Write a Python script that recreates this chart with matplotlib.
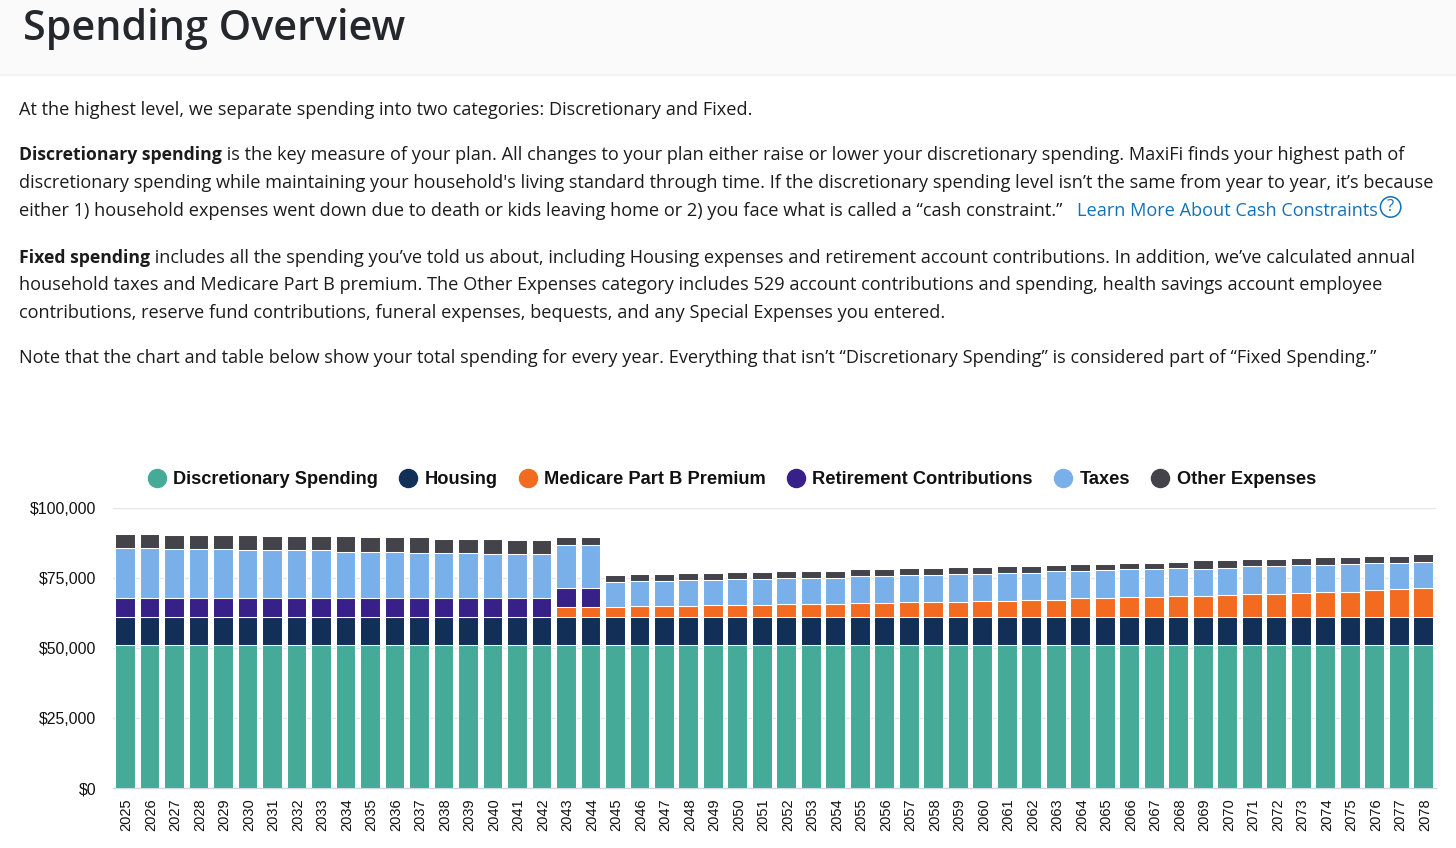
import matplotlib
matplotlib.use("Agg")
import matplotlib.pyplot as plt
from matplotlib.lines import Line2D
from matplotlib.patches import Rectangle, Circle
from matplotlib.ticker import FuncFormatter
from matplotlib.transforms import ScaledTranslation

years = list(range(2025, 2079))
discretionary = [51000] * 54
housing = [10000] * 54
medicare = [0, 0, 0, 0, 0, 0, 0, 0, 0, 0, 0, 0, 0, 0, 0, 0, 0, 0, 3700, 3700,
            3500, 3900, 3900, 3900, 4240, 4240, 4240, 4700, 4700, 4700, 5070, 5070, 5550, 5550,
            5550, 5900, 5900, 6260, 6260, 6740, 6740, 7210, 7210, 7690, 7690, 8050, 8400, 8400,
            8760, 9120, 9120, 9710, 10070, 10550]
retirement = [6860, 6860, 6860, 6860, 6860, 6860, 6860, 6860, 6860, 6860, 6860, 6860, 6860, 6860,
              6860, 6860, 6860, 6860, 6800, 6800,
              0, 0, 0, 0, 0, 0, 0, 0, 0, 0, 0, 0, 0, 0, 0, 0, 0, 0, 0, 0, 0, 0, 0, 0, 0, 0, 0, 0,
              0, 0, 0, 0, 0, 0]
taxes = [17850, 17850, 17500, 17500, 17500, 17140, 17140, 17140, 17140, 16540, 16540, 16540,
         16190, 16190, 16190, 15830, 15830, 15830, 15400, 15400,
         8950, 8910, 8910, 9390, 9050, 9520, 9520, 9420, 9420, 9420, 9530, 9530, 9400, 9400,
         9760, 9410, 10000, 9640, 10120, 9640, 10000, 9890, 9890, 10000, 9640, 9640, 9890, 9890,
         9880, 9520, 10000, 9770, 9410, 9280]
other = [5000, 5000, 5000, 5000, 5000, 5360, 5000, 5000, 5000, 5600, 5120, 5120, 5470, 5000, 5000,
         5360, 5000, 5000, 2620, 2620,
         2500, 2620, 2620, 2500, 2500, 2500, 2500, 2500, 2500, 2500, 2500, 2500, 2500, 2500,
         2620, 2620, 2390, 2390, 2260, 2740, 2380, 2380, 2380, 2140, 2980, 2620, 2500, 2500,
         2500, 2860, 2380, 2500, 2500, 2620]
series_names = ["Discretionary Spending", "Housing", "Medicare Part B Premium",
                "Retirement Contributions", "Taxes", "Other Expenses"]
series_values = [discretionary, housing, medicare, retirement, taxes, other]
series_colors = ["#45AB98", "#122F57", "#F26B21", "#372088", "#7AB0EA", "#434349"]
y_ticks = [0, 25000, 50000, 75000, 100000]

title_text = "Spending Overview"
para_lines = [
    (115, [("At the highest level, we separate spending into two categories: Discretionary and Fixed.", "n")]),
    (160, [("Discretionary spending", "b"), (" is the key measure of your plan. All changes to your plan either raise or lower your discretionary spending. MaxiFi finds your highest path of", "n")]),
    (188, [("discretionary spending while maintaining your household's living standard through time. If the discretionary spending level isn\u2019t the same from year to year, it\u2019s because", "n")]),
    (216, [("either 1) household expenses went down due to death or kids leaving home or 2) you face what is called a \u201ccash constraint.\u201d   ", "n"), ("Learn More About Cash Constraints", "l")]),
    (263, [("Fixed spending", "b"), (" includes all the spending you\u2019ve told us about, including Housing expenses and retirement account contributions. In addition, we\u2019ve calculated annual", "n")]),
    (290.5, [("household taxes and Medicare Part B premium. The Other Expenses category includes 529 account contributions and spending, health savings account employee", "n")]),
    (318.5, [("contributions, reserve fund contributions, funeral expenses, bequests, and any Special Expenses you entered.", "n")]),
    (363, [("Note that the chart and table below show your total spending for every year. Everything that isn\u2019t \u201cDiscretionary Spending\u201d is considered part of \u201cFixed Spending.\u201d", "n")]),
]

W, H = 1456, 848
fig = plt.figure(figsize=(W / 100, H / 100), dpi=100, facecolor="white")

page = fig.add_axes([0, 0, 1, 1], zorder=0)
page.set_xlim(0, W)
page.set_ylim(H, 0)
page.axis("off")
page.add_patch(Rectangle((0, 0), W, 74, color="#fafafa", lw=0))
page.add_patch(Rectangle((0, 74), W, 1.5, color="#f2f2f2", lw=0))
page.text(23, 40, title_text, family="Open Sans", weight=600, fontsize=29.7, color="#24282d", va="baseline")

PARA_SIZE = 13.1
BOLD_SIZE = 12.7
renderer = fig.canvas.get_renderer()
for base, runs in para_lines:
    x = 19
    for txt, kind in runs:
        t = page.text(x, base, txt.replace(" ", "\u00a0"), family="Open Sans",
                      fontsize=BOLD_SIZE if kind == "b" else PARA_SIZE,
                      weight="bold" if kind == "b" else "normal",
                      color="#1272b8" if kind == "l" else "#1b1b1b", va="baseline")
        x = t.get_window_extent(renderer).x1
    if runs[-1][1] == "l":
        page.add_patch(Circle((x + 13, 207), 10.2, fill=False, ec="#1272b8", lw=1.1))
        page.text(x + 13, 207, "?", family="Open Sans", fontsize=12, color="#1272b8", ha="center", va="center")

left, right, top, bottom = 112.8, 1435.5, 508, 788
ax = fig.add_axes([left / W, 1 - bottom / H, (right - left) / W, (bottom - top) / H], zorder=1)
ax.patch.set_alpha(0)
idx = list(range(len(years)))
base_vals = [0] * len(years)
for name, vals, col in zip(series_names, series_values, series_colors):
    ax.bar(idx, vals, bottom=base_vals, width=0.81, color=col, edgecolor="white", linewidth=0.75,
           label=name, zorder=3)
    base_vals = [a + b for a, b in zip(base_vals, vals)]

ax.set_xlim(-0.5, len(years) - 0.5)
ax.set_ylim(0, 100000)
ax.set_yticks(y_ticks)
ax.yaxis.set_major_formatter(FuncFormatter(lambda v, p: f"${v:,.0f}"))
ax.set_xticks(idx)
ax.set_xticklabels(years, rotation=90)
ax.tick_params(axis="y", length=0, pad=11.7, labelsize=11.45, labelcolor="#111111")
ax.tick_params(axis="x", length=0, pad=7.5, labelsize=10.5, labelcolor="#111111")
shift = ScaledTranslation(1.5 / 100, 0, fig.dpi_scale_trans)
for lab in ax.get_xticklabels():
    lab.set_family("Liberation Sans")
    lab.set_transform(lab.get_transform() + shift)
for lab in ax.get_yticklabels():
    lab.set_family("Liberation Sans")
ax.grid(axis="y", color="#e6e6e6", lw=1, zorder=0)
ax.set_axisbelow(True)
for s in ["top", "left", "right"]:
    ax.spines[s].set_visible(False)
ax.spines["bottom"].set_color("#ccd6eb")
ax.spines["bottom"].set_linewidth(1)

handles = [Line2D([], [], ls="", marker="o", ms=13, mfc=c, mec=c) for c in series_colors]
leg = fig.legend(handles, series_names, ncol=6, frameon=False, loc="center",
                 bbox_to_anchor=(728 / W, 1 - 479.5 / H), bbox_transform=fig.transFigure,
                 prop={"family": "Liberation Sans", "weight": "bold", "size": 13.15},
                 handletextpad=0.0, columnspacing=0.75, handlelength=1.8, borderpad=0)
for t in leg.get_texts():
    t.set_color("#111111")

fig.savefig("out.png", dpi=100)
